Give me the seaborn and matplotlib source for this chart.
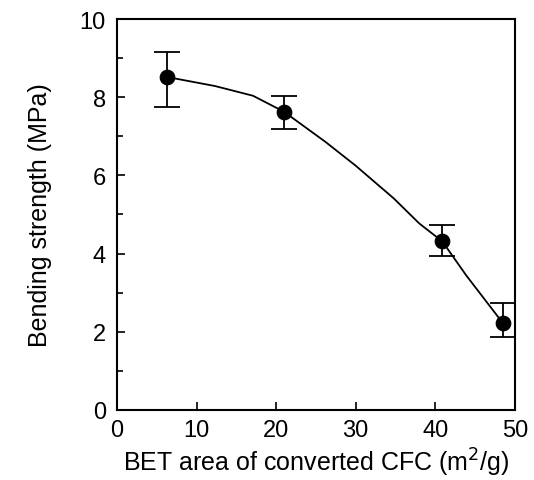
import numpy as np
import seaborn as sns
import matplotlib.pyplot as plt
from matplotlib.ticker import MultipleLocator

# measured points with error bars
bet_area = [6.3, 21.0, 40.9, 48.5]
strength = [8.52, 7.63, 4.31, 2.22]
err_low = [7.76, 7.19, 3.93, 1.86]
err_high = [9.16, 8.04, 4.74, 2.73]

# hand-drawn trend curve
curve_x = [6.3, 12.3, 17.1, 21.0, 26.2, 30.0, 34.8, 38.0, 40.9, 43.9, 48.5]
curve_y = [8.52, 8.29, 8.04, 7.63, 6.86, 6.25, 5.41, 4.77, 4.31, 3.44, 2.22]

sns.set_style("ticks", {"text.color": "black", "xtick.color": "black",
                        "ytick.color": "black", "axes.labelcolor": "black",
                        "axes.edgecolor": "black"})
plt.rcParams["font.family"] = ["Liberation Sans", "DejaVu Sans"]

fig = plt.figure(figsize=(5.34, 4.81), dpi=100)
ax = fig.add_axes([0.219, 0.146, 0.745, 0.812])

sns.lineplot(x=curve_x, y=curve_y, ax=ax, color="black", linewidth=1.3, sort=False)

y = np.array(strength)
yerr = [y - np.array(err_low), np.array(err_high) - y]
ax.errorbar(bet_area, strength, yerr=yerr, fmt="none", ecolor="black",
            elinewidth=1.3, capsize=9.5, capthick=1.3)
sns.scatterplot(x=bet_area, y=strength, ax=ax, color="black", s=110,
                edgecolor="black", zorder=5)

ax.set_xlim(0, 50)
ax.set_ylim(0, 10)
ax.xaxis.set_major_locator(MultipleLocator(10))
ax.yaxis.set_major_locator(MultipleLocator(2))
ax.yaxis.set_minor_locator(MultipleLocator(1))
ax.tick_params(which="both", direction="in", labelsize=17, width=1.2)
ax.tick_params(which="major", length=6)
ax.tick_params(which="minor", length=4)
ax.tick_params(axis="x", pad=7)
ax.tick_params(axis="y", pad=8)
for sp in ax.spines.values():
    sp.set_linewidth(1.5)
    sp.set_visible(True)

ax.set_xlabel("BET area of converted CFC (m$^2$/g)", fontsize=18, labelpad=3)
ax.set_ylabel("Bending strength (MPa)", fontsize=18, labelpad=20)

plt.savefig("out.png", dpi=100)
